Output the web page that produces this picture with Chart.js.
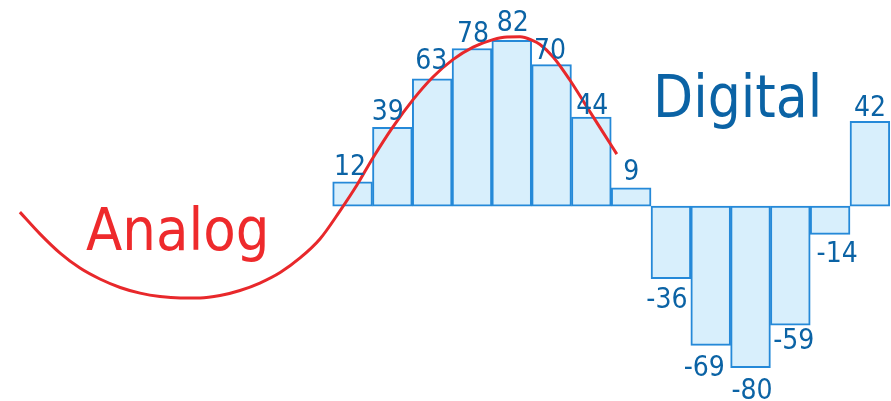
<!DOCTYPE html>
<html>
<head>
<meta charset="utf-8">
<script src="https://cdn.jsdelivr.net/npm/chart.js@4"></script>
<style>
  html, body { margin: 0; padding: 0; background: #fff; }
  #wrap { width: 891px; height: 401px; }
</style>
</head>
<body>
<div id="wrap"><canvas id="chart" width="891" height="401"></canvas></div>
<script>
// digital samples (one bar per sample)
const sampleIndex = [0, 1, 2, 3, 4, 5, 6, 7, 8, 9, 10, 11, 12, 13];
const sampleValues = [12, 39, 63, 78, 82, 70, 44, 9, -36, -69, -80, -59, -14, 42];

// analog curve (x in sample units)
const analogX = [-8.36, -7.85, -7.35, -6.85, -6.35, -5.84, -5.34, -4.84, -4.33, -3.83,
    -3.33, -2.83, -2.33, -1.82, -1.32, -0.82, -0.32, 0.11, 0.51, 1.01, 1.52, 2.02, 2.52,
    3.03, 3.53, 3.88, 4.21, 4.53, 4.71, 5.04, 5.46, 5.89, 6.29, 6.64];
const analogY = [-3, -13.9, -23.3, -30.7, -36.1, -40.3, -43.1, -44.8, -45.5, -45.5,
    -44.3, -41.8, -38.1, -32.9, -25.7, -16.3, -2.5, 10.4, 23.8, 39.1, 52.7, 63.9, 72.5,
    78.7, 82.4, 83.7, 83.8, 81.9, 80, 73.8, 62.4, 49, 36.6, 25.7];

const blueText = '#0b63a5';
const labelFont = "28px 'DejaVu Sans Condensed', 'DejaVu Sans', sans-serif";

// hand placement of the value labels, as in the picture (px)
const labelDx = [-2.5, -4.5, -1, 1, 1, -1.5, 1, 0, -4, -6.5, 1.5, 3.5, 7, 0];
const labelGap = [7, 7, 10, 6, 9, 6, 3, 8, 9, 10, 10.5, 3.5, 7.5, 5];

const sampleLabels = {
    id: 'sampleLabels',
    afterDatasetsDraw(chart) {
        const ctx = chart.ctx;
        const meta = chart.getDatasetMeta(1);
        ctx.save();
        ctx.font = labelFont;
        ctx.fillStyle = blueText;
        ctx.textAlign = 'center';
        ctx.textBaseline = 'alphabetic';
        meta.data.forEach((bar, i) => {
            const v = sampleValues[i];
            if (v >= 0) {
                ctx.fillText(String(v), bar.x + labelDx[i], bar.y - labelGap[i]);
            } else {
                ctx.fillText(String(v), bar.x + labelDx[i], bar.y + labelGap[i] + 20.5);
            }
        });

        // the two captions
        const xs = chart.scales.x, ys = chart.scales.y;
        ctx.textAlign = 'left';
        ctx.font = "59px 'DejaVu Sans Condensed', 'DejaVu Sans', sans-serif";
        ctx.fillStyle = '#ee2a2c';
        ctx.fillText('Analog', xs.getPixelForValue(-6.7), ys.getPixelForValue(-21.7));
        ctx.font = "58px 'DejaVu Sans Condensed', 'DejaVu Sans', sans-serif";
        ctx.fillStyle = blueText;
        ctx.fillText('Digital', xs.getPixelForValue(7.55), ys.getPixelForValue(44));
        ctx.restore();
    }
};

new Chart(document.getElementById('chart'), {
    data: {
        datasets: [
            {
                type: 'line',
                label: 'Analog',
                data: analogX.map((x, i) => ({ x: x, y: analogY[i] })),
                borderColor: '#e8282b',
                borderWidth: 3,
                pointRadius: 0,
                cubicInterpolationMode: 'monotone',
                order: 0,
            },
            {
                type: 'bar',
                label: 'Digital',
                data: sampleIndex.map((x, i) => ({ x: x, y: sampleValues[i] })),
                backgroundColor: '#d8effc',
                borderColor: '#2589d8',
                borderWidth: 2,
                borderSkipped: false,
                barPercentage: 1,
                categoryPercentage: 1,
                order: 1,
            },
        ],
    },
    plugins: [sampleLabels],
    options: {
        responsive: false,
        animation: false,
        layout: { padding: 0 },
        plugins: { legend: { display: false }, tooltip: { enabled: false } },
        scales: {
            x: { type: 'linear', min: -8.86, max: 13.53, offset: false, grid: { offset: false }, display: false },
            y: { type: 'linear', min: -96.5, max: 102, display: false },
        },
    },
});
</script>
</body>
</html>
